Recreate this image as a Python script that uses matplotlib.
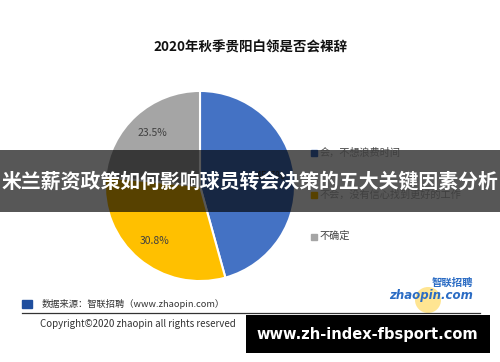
import matplotlib
matplotlib.use("Agg")
import matplotlib.pyplot as plt
from matplotlib.patches import Rectangle, Circle

plt.rcParams["font.family"] = ["Noto Sans CJK SC", "DejaVu Sans"]

# data
title = "2020年秋季贵阳白领是否会裸辞"
labels = ["会，不想浪费时间", "不会，没有信心找到更好的工作", "不确定"]
values = [45.7, 30.8, 23.5]
colors = ["#4472C4", "#FFC000", "#A5A5A5"]
banner = "米兰薪资政策如何影响球员转会决策的五大关键因素分析"
source = "数据来源：智联招聘（www.zhaopin.com）"
copyright_text = "Copyright©2020 zhaopin all rights reserved"
watermark = "www.zh-index-fbsport.com"

W, H = 500, 362
fig = plt.figure(figsize=(W / 100, H / 100), dpi=100)

# pie
pax = fig.add_axes([104 / W, 1 - 282 / H, 192 / W, 192 / H])
wedges, _, autotexts = pax.pie(
    values,
    colors=colors,
    startangle=90,
    counterclock=False,
    autopct="%.1f%%",
    pctdistance=0.75,
    wedgeprops=dict(edgecolor="white", linewidth=1.5),
    textprops=dict(color="#404040", fontsize=7.5),
)
pax.set_xlim(-1.01, 1.01)
pax.set_ylim(-1.01, 1.01)
pax.set_aspect("equal")

# overlay axes in pixel coords
ax = fig.add_axes([0, 0, 1, 1], zorder=5)
ax.set_xlim(0, W)
ax.set_ylim(H, 0)
ax.axis("off")

ax.text(250, 48, title, ha="center", va="center", fontsize=9.7,
        fontweight="bold", color="#111111")

# legend
leg_y = [153, 195, 237]
for lab, col, y in zip(labels, colors, leg_y):
    ax.add_patch(Rectangle((311, y - 3), 6, 6, color=col))
    ax.text(320, y, lab, ha="left", va="center", fontsize=7.3, color="#404040")

# footer
ax.add_patch(Rectangle((22, 300), 10, 8, color="#1F4E9E"))
ax.text(42, 304, source, ha="left", va="center", fontsize=6.7, color="#333333")
ax.plot([22, 480], [313, 313], color="#333333", lw=0.9)
ax.text(40, 324, copyright_text, ha="left", va="center", fontsize=7,
        color="#333333")

# logo
ax.add_patch(Circle((428, 300), 13, color="#FFD54A", alpha=0.6, lw=0))
ax.text(452, 283, "智联招聘", ha="center", va="center", fontsize=7.5,
        color="#2B6CC4", style="italic", fontweight="bold")
ax.text(431, 296, "zhaopin.com", ha="center", va="center", fontsize=8.5,
        color="#2B6CC4", style="italic", fontweight="bold",
        family="DejaVu Sans")

# banner
ax.add_patch(Rectangle((0, 150), W, 62, color="black", alpha=0.66, lw=0))
ax.text(250, 181, banner, ha="center", va="center", fontsize=14.3,
        fontweight="bold", color="white")

# watermark
ax.add_patch(Rectangle((246, 315), 244, 38, color="black", lw=0))
ax.text(367, 335, watermark, ha="center", va="center", fontsize=10.5,
        fontweight="bold", color="white", family="DejaVu Sans")

fig.savefig("out.png", dpi=100)
